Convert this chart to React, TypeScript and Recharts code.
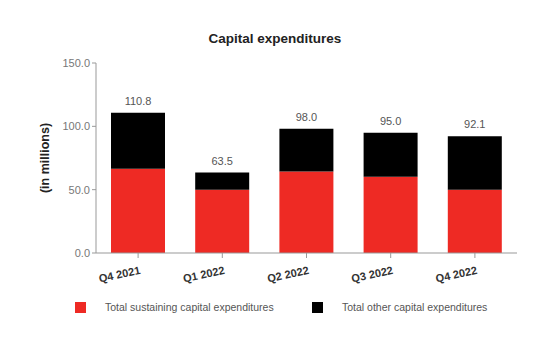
import React from 'react';
import { BarChart, Bar, XAxis, YAxis, LabelList } from 'recharts';

const quarters = ['Q4 2021', 'Q1 2022', 'Q2 2022', 'Q3 2022', 'Q4 2022'];
const sustaining = [66.5, 50.0, 64.3, 60.2, 50.0];
const totals = [110.8, 63.5, 98.0, 95.0, 92.1];
const other = totals.map((t, i) => +(t - sustaining[i]).toFixed(1));
const yTicks = [0, 50, 100, 150];

const RED = '#ee2a24';
const FONT = 'Liberation Sans, Arial, sans-serif';

const data = quarters.map((q, i) => ({
  name: q,
  sustaining: sustaining[i],
  other: other[i],
}));

const QuarterTick = (props: any) => {
  const { x, y, payload } = props;
  return (
    <g transform={`translate(${x},${y})`}>
      <text
        x={0}
        y={0}
        dy={14}
        textAnchor="end"
        transform="rotate(-12)"
        fontSize={11}
        fontWeight="bold"
        fill="#333"
        fontFamily={FONT}
      >
        {payload.value}
      </text>
    </g>
  );
};

const TotalLabel = (props: any) => {
  const { x, y, width, index } = props;
  return (
    <text
      x={x + width / 2}
      y={y - 8}
      textAnchor="middle"
      fontSize={11}
      fill="#555"
      fontFamily={FONT}
    >
      {totals[index].toFixed(1)}
    </text>
  );
};

const legendItems = [
  { label: 'Total sustaining capital expenditures', color: RED, left: 75 },
  { label: 'Total other capital expenditures', color: '#000', left: 312 },
];

export default function App() {
  return (
    <div style={{ position: 'absolute', left: 0, top: 0, width: 550, height: 350, background: '#fff' }}>
      <div
        style={{
          position: 'absolute',
          top: 31,
          width: 550,
          textAlign: 'center',
          fontFamily: FONT,
          fontWeight: 'bold',
          fontSize: 13.5,
          color: '#222',
        }}
      >
        Capital expenditures
      </div>
      <BarChart
        width={550}
        height={350}
        data={data}
        margin={{ top: 63, right: 33, left: 36, bottom: 67 }}
        barSize={54}
      >
        <XAxis
          dataKey="name"
          tick={<QuarterTick />}
          tickLine={{ stroke: '#999' }}
          tickSize={5}
          axisLine={{ stroke: '#999' }}
          interval={0}
        />
        <YAxis
          domain={[0, 150]}
          ticks={yTicks}
          tickFormatter={(v: number) => v.toFixed(1)}
          tick={{ fill: '#777', fontSize: 11, fontFamily: FONT }}
          tickLine={{ stroke: '#999' }}
          tickSize={4}
          axisLine={{ stroke: '#999' }}
          width={60}
          label={{
            value: '(in millions)',
            angle: -90,
            position: 'insideLeft',
            offset: 9,
            style: { textAnchor: 'middle', fontSize: 12.5, fontWeight: 'bold', fill: '#222', fontFamily: FONT },
          }}
        />
        <Bar dataKey="sustaining" stackId="a" fill={RED} isAnimationActive={false} />
        <Bar dataKey="other" stackId="a" fill="#000" isAnimationActive={false}>
          <LabelList content={<TotalLabel />} />
        </Bar>
      </BarChart>
      {legendItems.map((item) => (
        <div
          key={item.label}
          style={{
            position: 'absolute',
            top: 301,
            left: item.left,
            display: 'flex',
            alignItems: 'center',
            fontFamily: FONT,
            fontSize: 10.5,
            color: '#555',
            whiteSpace: 'nowrap',
          }}
        >
          <span style={{ display: 'inline-block', width: 11, height: 11, background: item.color, marginRight: 19 }} />
          <span>{item.label}</span>
        </div>
      ))}
    </div>
  );
}
